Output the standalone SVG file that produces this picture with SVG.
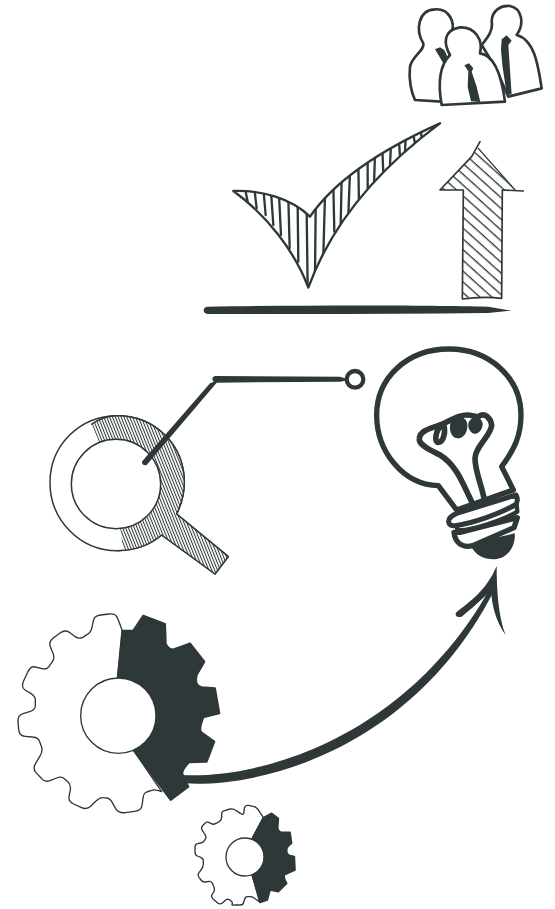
<svg xmlns="http://www.w3.org/2000/svg" width="555" height="909" viewBox="0 0 555 909">
<style>
.o{fill:#fff;stroke:#2e3838;stroke-linejoin:round;stroke-linecap:round}
.d{fill:#2e3838}
.l{fill:none;stroke:#2e3838;stroke-linecap:round;stroke-linejoin:round}
</style>
<defs>
<pattern id="fine" patternUnits="userSpaceOnUse" width="8" height="8" patternTransform="rotate(-22)"><rect width="8" height="8" fill="#fff"/><rect width="3" height="8" fill="#2e3838"/></pattern>
<pattern id="diag" patternUnits="userSpaceOnUse" width="24" height="24" patternTransform="rotate(42)"><rect width="24" height="24" fill="#fff"/><rect width="24" height="4" fill="#2e3838"/></pattern>
<clipPath id="chk"><path d="M115,228C200,225 290,250 345,305C430,180 590,90 735,25C620,110 430,270 340,518C300,410 215,300 115,228Z"/></clipPath>
</defs>
<rect width="555" height="909" fill="#fff"/>
<g id="people" transform="translate(395 0) scale(.33333)">
<path class="o" stroke-width="8" d="M85,130C60,90 70,30 120,28C165,25 180,70 170,95C160,130 150,140 175,190L140,305L60,300C50,280 40,240 45,200C50,170 90,150 85,130Z"/>
<path class="d" d="M120,148L135,142L148,150L166,190L150,205L145,190Z"/>
<path class="o" stroke-width="8" d="M260,135C280,110 295,90 290,65C290,30 320,15 345,18C380,25 390,70 365,105C420,120 430,200 440,265L340,290L300,200Z"/>
<path class="d" d="M320,118L335,106L350,122L340,135L345,210L350,284L335,282L322,195L318,150Z"/>
<path class="o" stroke-width="8" d="M140,315C130,260 130,200 165,165C145,130 145,90 195,82C240,80 265,120 255,160C300,165 320,230 330,305Z"/>
<path class="d" d="M208,196L222,190L235,205L230,215L245,260L256,306L228,304L218,260L220,214Z"/>
</g>
<g id="checkmark" transform="translate(195 115) scale(.33333)">
<path fill="#fff" d="M115,228C200,225 290,250 345,305C430,180 590,90 735,25C620,110 430,270 340,518C300,410 215,300 115,228Z"/>
<g clip-path="url(#chk)"><path class="l" stroke-width="7" d="M150,220L158,260M178,220L185,280M205,220L212,300M228,230L235,330M252,240L258,360M280,250L284,400M308,270L310,440M335,290L338,520M362,280L360,480M390,240L385,420M415,210L418,350M440,190L437,330M465,170L460,300M490,150L492,270M518,130L518,220M540,115L537,210M562,100L565,180M588,90L585,150M612,80L615,125M632,70L630,110M655,60L660,85M678,50L680,70"/></g>
<path class="l" stroke-width="7" d="M115,228C200,225 290,250 345,305C430,180 590,90 735,25C620,110 430,270 340,518C300,410 215,300 115,228Z"/>
</g>
<g id="up-arrow" transform="translate(195 115) scale(.33333)">
<path fill="url(#diag)" d="M850,100L735,225L805,225L802,550C850,545 880,545 920,550L922,225L960,225Z"/>
<path class="l" stroke-width="5" d="M855,80L830,125L735,225L805,225L802,552C850,545 880,545 920,550L922,225L985,228"/>
<path class="l" stroke-width="4" d="M850,100L960,225"/>
</g>
<g id="baseline" transform="translate(195 115) scale(.33333)">
<path class="d" d="M38,575C300,570 700,570 880,575L950,587L880,594C600,598 300,597 38,597C22,597 22,575 38,575Z"/>
</g>
<g id="magnifier" transform="translate(40 360) scale(.33333)">
<path class="o" stroke-width="4.5" d="M30,368C30,255 120,167 232,167C345,167 433,255 433,368C433,400 425,430 410,462L565,590L525,642L365,525C330,555 285,572 232,572C120,572 30,480 30,368Z"/>
<path fill="url(#fine)" d="M155,192C180,175 205,167 232,167C345,167 433,255 433,368C433,400 425,430 410,462L565,590L525,642L365,525C330,555 290,570 250,570L240,503C310,503 362,440 362,372C362,300 305,240 228,240C210,240 195,243 178,248Z"/>
<path class="l" stroke-width="4.5" d="M155,192C180,175 205,167 232,167C345,167 433,255 433,368C433,400 425,430 410,462L565,590L525,642L365,525C330,555 285,572 232,572"/>
<circle cx="228" cy="372" r="134" fill="#fff" stroke="#2e3838" stroke-width="4.5"/>
</g>
<g id="bulb" transform="translate(360 335) scale(.33333)">
<path class="o" stroke-width="16" d="M290,525L235,452C130,450 50,350 50,240C50,130 140,42 267,42C390,42 483,130 483,240C483,300 465,340 425,395L460,465Z"/>
<path class="l" stroke-width="17" d="M335,500C310,450 290,390 240,360C210,345 175,330 178,310C180,285 220,278 245,268C270,258 290,240 320,240C335,240 345,245 355,245C375,230 392,250 395,270C395,300 345,335 345,370C345,410 365,450 372,490"/>
<path class="l" stroke-width="17" d="M245,272C226,285 222,322 235,322C252,322 258,285 250,268"/>
<path class="d" d="M272,262C285,240 318,240 322,268C324,292 310,312 292,310C272,308 266,282 272,262ZM326,262C336,240 366,244 368,266C368,285 354,298 342,296C328,292 322,275 326,262Z"/>
<path class="d" d="M332,630C345,665 380,675 410,672C445,668 468,630 464,595L400,610Z"/>
<path class="o" stroke-width="16" d="M282,592C285,622 305,640 338,632L462,578L472,548L300,592Z"/>
<path class="o" stroke-width="13" d="M292,585C330,590 440,550 472,530L470,510L290,565Z"/>
<path class="o" stroke-width="15" d="M290,535L468,480C475,490 472,505 465,510C420,535 340,565 285,572C262,575 255,550 290,535Z"/>
</g>
<g id="gear-large" transform="translate(5 600) scale(.33333)">
<path class="o" stroke-width="4" d="M352,92L340,60L335,50Q330,40 311,42L287,45Q268,47 265,62L261,82Q258,97 247,103L233,112Q222,118 209,109L193,97Q180,88 165,99L145,114Q130,125 136,140L144,160Q150,175 142,185L132,200Q125,210 111,206L91,201Q77,197 68,217L56,242Q47,262 60,270L78,281Q92,290 91,302L91,318Q90,330 74,335L54,341Q38,346 39,365L41,389Q43,408 60,409L83,411Q100,412 104,425L110,442Q114,455 104,470L92,490Q82,505 93,518L109,535Q120,548 135,542L155,534Q170,528 178,536L190,547Q198,555 196,570L192,590Q190,605 206,612L228,622Q245,630 257,619L273,603Q285,592 294,593L306,594Q315,595 322,608L332,626Q340,640 361,638L389,634Q410,632 411,616L414,596Q415,580 425,576L440,571Q450,567 470,575L385,450L338,235Z"/>
<path class="d" stroke="#2e3838" stroke-width="6" stroke-linejoin="round" d="M352,92L385,92L415,47L480,72Q482,115 482,130Q490,150 505,148L555,130L598,185L575,225Q568,258 590,262L630,265L643,340L595,352Q580,390 590,398L628,425L605,485L552,487Q530,510 532,522L550,560L497,600L385,450L338,235Z"/>
<circle cx="340" cy="347" r="113" fill="#fff" stroke="#2e3838" stroke-width="4"/>
</g>
<g id="gear-small" transform="translate(180 795) scale(.33333)">
<path class="o" stroke-width="4" d="M250,68L240,52Q230,35 220,34L205,31Q195,30 193,40L192,52Q190,62 181,55L169,47Q160,40 150,42L136,46Q125,48 125,56L125,67Q125,75 118,80L108,85Q100,90 94,86L86,82Q80,78 75,85L67,93Q62,100 68,108L74,117Q80,125 77,131L73,137Q70,143 62,144L53,146Q45,147 45,157L45,170Q45,180 52,183L62,187Q70,190 70,198L70,207Q70,215 65,222L57,233Q52,240 57,247L63,255Q68,262 76,261L87,259Q95,258 98,266L102,277Q105,285 101,291L96,299Q92,305 100,313L112,323Q120,330 127,324L136,316Q143,310 148,314L153,318Q158,322 157,325L156,328Q155,331 166,330L180,330Q190,330 191,322L194,313Q195,305 203,305L212,305Q220,305 240,322L216,238L218,128Z"/>
<path class="d" stroke="#2e3838" stroke-width="5" stroke-linejoin="round" d="M250,68L275,55L295,70L293,100Q297,112 305,112L330,112L335,145Q320,155 320,165Q320,180 330,182L343,185L345,225L312,240Q312,255 320,265L295,290L270,285L262,315L240,322L216,238L218,128Z"/>
<circle cx="195" cy="186" r="57" fill="#fff" stroke="#2e3838" stroke-width="4"/>
</g>
<g id="connectors">
<g transform="translate(40 360) scale(.33333)">
<path class="d" d="M525,48L900,50L915,55L915,62L900,65L530,68L320,315C310,318 302,310 308,302L510,70L522,65C515,62 515,50 525,48Z"/>
<circle cx="945" cy="58" r="25" fill="#fff" stroke="#2e3838" stroke-width="13"/>
</g>
<g transform="translate(170 560) scale(.33333)">
<path class="d" d="M35,645C300,657 720,515 960,85L968,100C735,550 300,684 45,670Z"/>
<path class="d" d="M980,18C980,90 985,170 1007,226C975,180 965,130 963,90C935,120 900,150 875,170C858,175 853,163 860,156C900,125 950,90 980,18Z"/>
</g>
</g>
</svg>
